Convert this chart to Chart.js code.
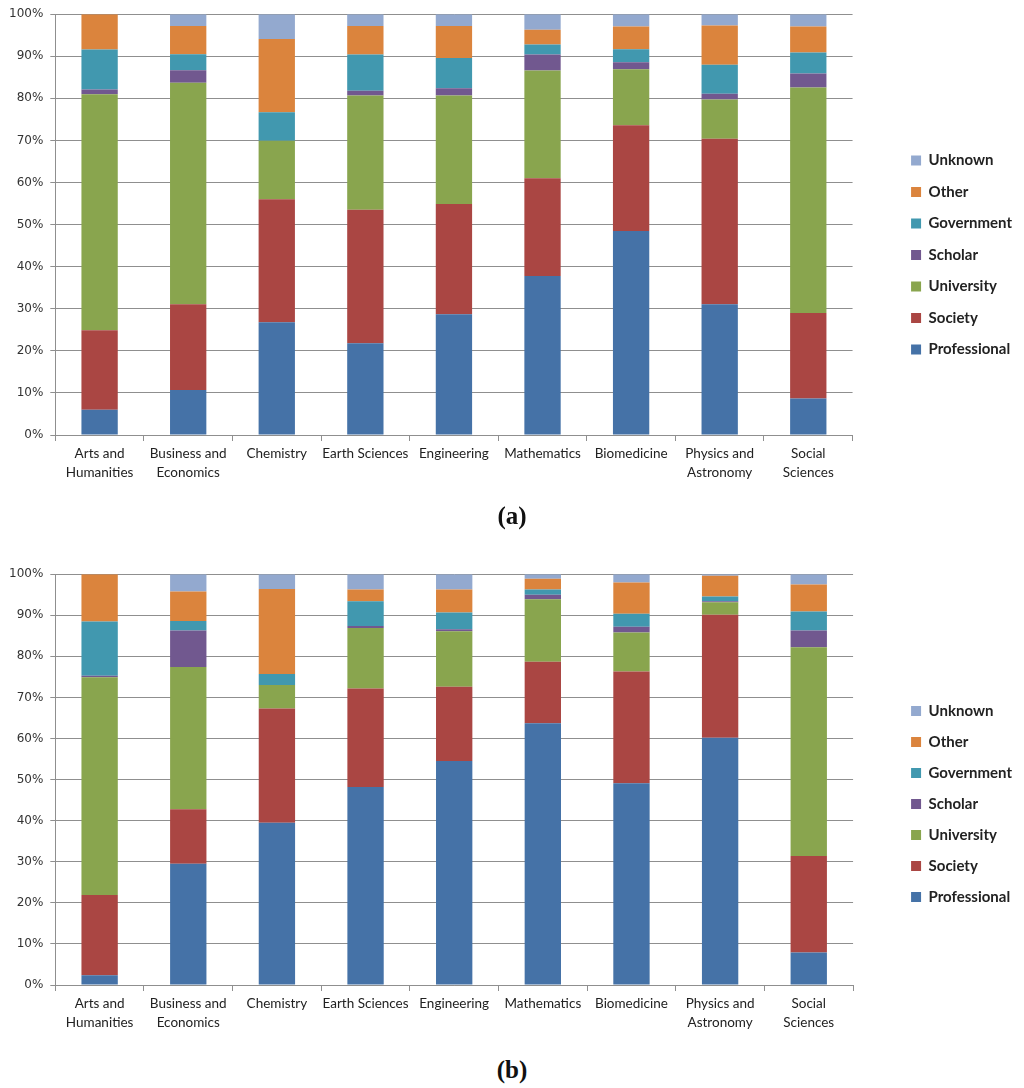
<!DOCTYPE html>
<html>
<head>
<meta charset="utf-8">
<script src="https://cdn.jsdelivr.net/npm/chart.js@4.4.1/dist/chart.umd.min.js"></script>
<style>
  body { margin: 0; background: #fff; width: 1024px; height: 1088px; position: relative; overflow: hidden; }
  .wrap { position: absolute; left: 0; width: 1024px; }
  #wrapA { top: 0; height: 505px; }
  #wrapB { top: 560px; height: 495px; }
  .cap { position: absolute; width: 1024px; left: 0; text-align: center;
         font-family: "Liberation Serif", serif; font-weight: bold; font-size: 25px; color: #111; }
</style>
</head>
<body>
<div class="wrap" id="wrapA"><canvas id="chartA"></canvas></div>
<div class="cap" style="top:502px">(<span>a</span>)</div>
<div class="wrap" id="wrapB"><canvas id="chartB"></canvas></div>
<div class="cap" style="top:1056px">(<span>b</span>)</div>
<script>
// categories (x axis)
const categories = [
    ['Arts and', 'Humanities'], ['Business and', 'Economics'], 'Chemistry', 'Earth Sciences',
    'Engineering', 'Mathematics', 'Biomedicine', ['Physics and', 'Astronomy'], ['Social', 'Sciences']
];
const seriesNames = ['Professional', 'Society', 'University', 'Scholar', 'Government', 'Other', 'Unknown'];
const seriesColors = ['#4572A7', '#AA4643', '#89A54E', '#71588F', '#4198AF', '#DB843D', '#93A9CF'];
const yTicks = [0, 10, 20, 30, 40, 50, 60, 70, 80, 90, 100];

// chart (a), percent
const professionalA = [6.0, 10.7, 26.8, 21.8, 28.7, 37.8, 48.5, 31.1, 8.7];
const societyA      = [18.9, 20.4, 29.2, 31.7, 26.2, 23.2, 25.1, 39.3, 20.3];
const universityA   = [56.1, 52.6, 13.9, 27.2, 25.8, 25.6, 13.3, 9.3, 53.6];
const scholarA      = [1.1, 3.0, 0, 1.1, 1.7, 3.8, 1.7, 1.4, 3.3];
const governmentA   = [9.5, 3.8, 6.8, 8.6, 7.2, 2.4, 3.1, 6.9, 5.0];
const otherA        = [8.4, 6.7, 17.4, 6.8, 7.6, 3.5, 5.4, 9.3, 6.2];
const unknownA      = [0, 2.8, 5.9, 2.8, 2.8, 3.7, 2.9, 2.7, 2.9];

// chart (b), percent
const professionalB = [2.4, 29.5, 39.5, 48.2, 54.5, 63.7, 49.1, 60.2, 7.9];
const societyB      = [19.5, 13.3, 27.8, 24.0, 18.1, 15.0, 27.2, 29.9, 23.5];
const universityB   = [53.0, 34.6, 5.7, 14.7, 13.5, 15.2, 9.5, 3.1, 50.8];
const scholarB      = [0.4, 8.9, 0, 0.5, 0.5, 1.1, 1.4, 0.2, 4.1];
const governmentB   = [13.2, 2.3, 2.7, 6.0, 4.1, 1.3, 3.2, 1.2, 4.6];
const otherB        = [11.5, 7.2, 20.7, 2.9, 5.6, 2.6, 7.6, 5.0, 6.6];
const unknownB      = [0, 4.2, 3.6, 3.7, 3.7, 1.1, 2.0, 0.4, 2.5];

const gridColor = '#8f8f8f';

function makeChart(id, seriesData, xAxisHeight, padBottom, legendPad) {
    const ctx = document.getElementById(id).getContext('2d');
    return new Chart(ctx, {
        type: 'bar',
        data: {
            labels: categories,
            datasets: seriesNames.map((name, i) => ({
                label: name,
                data: seriesData[i],
                backgroundColor: seriesColors[i],
                borderWidth: 0,
                categoryPercentage: 1,
                barPercentage: 0.41
            }))
        },
        options: {
            responsive: true,
            maintainAspectRatio: false,
            animation: false,
            layout: { padding: { left: 2, right: 2, top: 5, bottom: padBottom } },
            scales: {
                x: {
                    stacked: true,
                    grid: { offset: true, drawOnChartArea: false, drawTicks: true, tickLength: 6, color: gridColor },
                    border: { color: gridColor, width: 1 },
                    ticks: {
                        color: '#222', padding: 3, maxRotation: 0, autoSkip: false,
                        font: { family: 'Lato', size: 13.5, lineHeight: 1.4 }
                    },
                    afterFit: (scale) => { scale.height = xAxisHeight; }
                },
                y: {
                    stacked: true,
                    min: 0, max: 100,
                    afterBuildTicks: (scale) => { scale.ticks = yTicks.map(v => ({ value: v })); },
                    grid: { color: gridColor, lineWidth: 1, tickLength: 5 },
                    border: { color: gridColor, width: 1 },
                    ticks: {
                        color: '#333', padding: 7,
                        font: { family: 'DejaVu Sans', size: 12 },
                        callback: (v) => v + '%'
                    }
                },
                gap: {
                    position: 'right',
                    display: true,
                    grid: { display: false },
                    border: { display: false },
                    ticks: { display: false },
                    afterFit: (scale) => { scale.width = 42; }
                }
            },
            plugins: {
                legend: {
                    position: 'right',
                    reverse: true,
                    labels: {
                        boxWidth: 10, boxHeight: 10, padding: legendPad, color: '#222',
                        font: { family: 'Lato', size: 15, weight: 'bold' }
                    }
                },
                tooltip: { enabled: false }
            }
        }
    });
}

makeChart('chartA', [professionalA, societyA, universityA, scholarA, governmentA, otherA, unknownA], 70, 0, 16.5);
makeChart('chartB', [professionalB, societyB, universityB, scholarB, governmentB, otherB, unknownB], 58, 12, 16);
</script>
</body>
</html>
